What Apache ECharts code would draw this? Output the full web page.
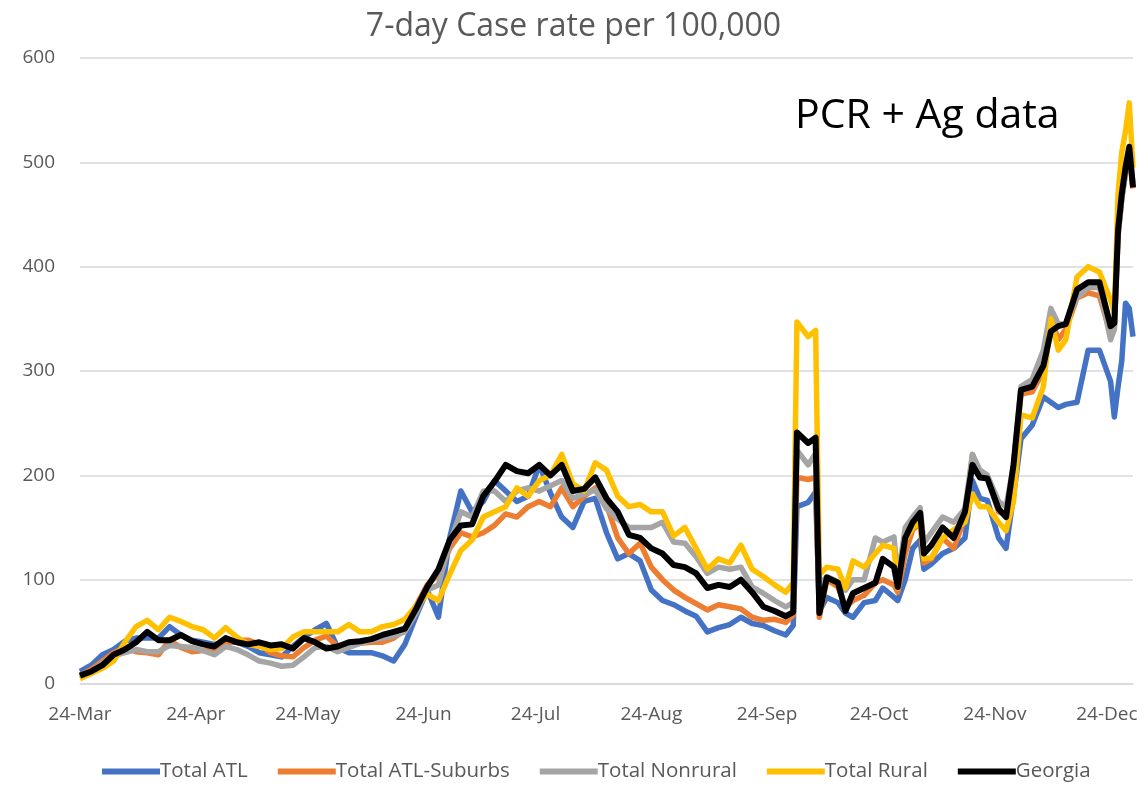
<!DOCTYPE html>
<html>
<head>
<meta charset="utf-8">
<script src="https://cdn.jsdelivr.net/npm/echarts@6/dist/echarts.min.js"></script>
<style>
  html, body { margin: 0; padding: 0; background: #fff; }
  #chart { width: 1147px; height: 789px; }
</style>
</head>
<body>
<div id="chart"></div>
<script>
// day offsets from 24-Mar
const days = [0,3,6,9,12,15,18,21,24,27,30,33,36,39,42,45,48,51,54,57,60,63,66,69,72,75,78,81,84,87,90,93,96,99,102,105,108,111,114,117,120,123,126,129,132,135,138,141,144,147,150,153,156,159,162,165,168,171,174,177,180,183,186,189,
  191,192,195,197,198,200,203,205,207,210,213,215,218,219,221,223,225,226,228,
  231,234,237,239,241,243,246,248,250,252,255,258,260,262,264,267,270,273,276,277,278,279,280,281,282]

const totalAtl = [12,18,28,33,41,44,44,44,55,47,42,40,38,40,40,36,30,28,26,36,45,52,58,35,30,30,30,27,22,38,65,90,64,140,185,165,175,195,185,175,180,210,183,160,150,175,178,145,120,125,118,90,80,76,70,65,50,54,57,64,58,56,51,47,
  56,170,174,184,70,83,78,68,64,78,80,92,83,80,100,130,138,110,115,
  125,130,140,195,178,176,140,130,180,235,248,275,270,265,268,270,320,320,290,256,285,310,365,360,333]

const totalSuburbs = [8,14,22,30,35,31,30,28,42,35,31,32,33,38,42,42,38,30,27,26,35,42,46,36,38,39,40,40,44,52,75,95,105,130,145,141,145,152,163,160,170,175,170,188,170,180,188,172,140,125,135,112,100,90,83,77,71,76,74,72,64,61,62,59,
  66,198,196,198,64,100,93,74,80,85,97,100,95,88,125,148,154,116,120,
  140,130,160,220,200,198,165,162,205,278,280,300,350,330,340,370,375,372,336,340,430,465,490,505,475]

const totalNonrural = [7,12,20,27,30,33,31,31,37,36,35,32,28,36,33,28,22,20,17,18,26,35,36,31,35,39,42,44,46,50,68,90,95,135,165,160,185,185,175,185,188,185,190,195,178,182,186,168,158,150,150,150,155,136,135,122,106,112,110,112,93,87,80,74,
  78,224,210,221,95,103,98,90,100,100,140,136,141,100,150,160,169,135,145,
  160,155,168,220,205,200,175,170,210,285,292,320,360,345,345,370,380,380,330,340,430,465,490,510,480]

const totalRural = [5,10,15,22,40,55,61,52,64,60,55,52,44,54,45,38,36,33,34,45,50,50,50,50,57,50,50,55,57,62,75,86,80,105,128,138,160,165,170,188,180,195,200,220,192,185,212,205,180,170,172,165,165,142,150,130,110,120,116,133,110,103,95,88,
  97,347,333,339,105,112,110,92,118,112,125,133,130,92,138,150,155,120,121,
  140,148,155,182,170,170,155,147,175,258,255,285,350,320,330,390,400,395,368,356,470,510,530,557,495]

const georgia = [8,12,18,28,33,40,50,42,42,47,41,38,36,44,40,38,40,37,38,34,44,40,34,36,40,41,43,47,50,53,72,93,110,138,152,153,180,194,210,204,202,210,200,210,185,187,198,178,165,143,140,130,125,114,112,106,92,95,93,100,88,74,70,65,
  69,241,231,236,68,102,97,70,87,92,97,120,112,93,140,155,164,125,133,
  150,140,165,210,198,197,168,160,210,282,285,305,338,343,345,378,385,385,343,346,435,470,495,515,476]

const monthNames = ['Jan','Feb','Mar','Apr','May','Jun','Jul','Aug','Sep','Oct','Nov','Dec']
const lastDay = 282
const yTicks = { min: 0, max: 600, step: 100 }

const dates = []
for (let i = 0; i <= lastDay; i++) dates.push(new Date(2020, 2, 24 + i))
const categories = dates.map(d => d.getDate() + '-' + monthNames[d.getMonth()])

const FONT = 'Open Sans'
const pair = vals => days.map((d, i) => [d, vals[i]])

const seriesDefs = [
  { name: 'Total ATL', color: '#4472C4', data: totalAtl },
  { name: 'Total ATL-Suburbs', color: '#ED7D31', data: totalSuburbs },
  { name: 'Total Nonrural', color: '#A5A5A5', data: totalNonrural },
  { name: 'Total Rural', color: '#FFC000', data: totalRural },
  { name: 'Georgia', color: '#000000', data: georgia },
]

const chart = echarts.init(document.getElementById('chart'))
chart.setOption({
  animation: false,
  title: {
    text: '7-day Case rate per 100,000',
    left: 'center', top: 6,
    textStyle: { fontFamily: FONT, fontSize: 32, fontWeight: 'normal', color: '#595959' },
  },
  graphic: [{
    type: 'text', left: 795, top: 96,
    style: { text: 'PCR + Ag data', fontFamily: FONT, fontSize: 41, fill: '#000' },
  }],
  legend: {
    bottom: 2, left: 97, itemWidth: 58, itemHeight: 6, itemGap: 30, icon: 'rect',
    textStyle: { fontFamily: FONT, fontSize: 20.5, color: '#595959', padding: [0, 0, 0, -5] },
    data: seriesDefs.map(s => s.name),
  },
  grid: { left: 80, right: 14, top: 58, bottom: 105 },
  xAxis: {
    type: 'category',
    data: categories,
    boundaryGap: false,
    axisLine: { lineStyle: { color: '#D9D9D9', width: 1.5 } },
    axisTick: { show: false },
    axisLabel: {
      interval: i => dates[i].getDate() === 24,
      fontFamily: FONT, fontSize: 19, color: '#595959', margin: 21,
    },
  },
  yAxis: {
    type: 'value', min: yTicks.min, max: yTicks.max, interval: yTicks.step,
    axisLine: { show: false }, axisTick: { show: false },
    splitLine: { lineStyle: { color: '#D9D9D9', width: 1.5 } },
    axisLabel: { fontFamily: FONT, fontSize: 19, color: '#595959', margin: 25 },
  },
  series: seriesDefs.map(s => ({
    name: s.name, type: 'line', data: pair(s.data),
    showSymbol: false, symbol: 'none',
    lineStyle: { color: s.color, width: s.name === 'Georgia' ? 6 : 5.5, join: 'round' },
    itemStyle: { color: s.color },
  })),
})
</script>
</body>
</html>
